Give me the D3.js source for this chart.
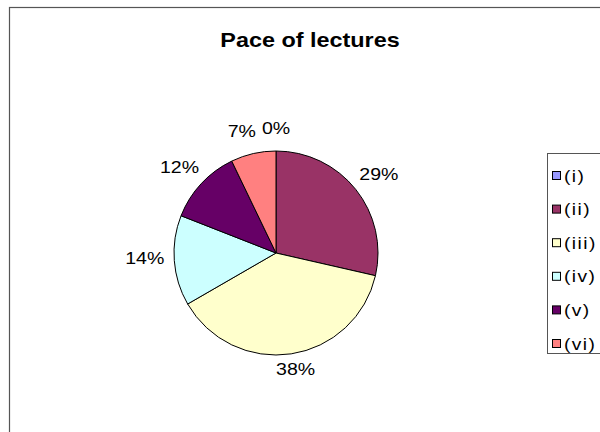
<!DOCTYPE html>
<html>
<head>
<meta charset="utf-8">
<script src="https://cdn.jsdelivr.net/npm/d3@7"></script>
<style>
  html, body { margin: 0; padding: 0; background: #fff; }
  svg { display: block; font-family: "Liberation Sans", Arial, sans-serif; }
</style>
</head>
<body>
<svg id="chart" width="600" height="432"></svg>
<script>
// ---- data ----
const title = "Pace of lectures";
const categories = ["(i)", "(ii)", "(iii)", "(iv)", "(v)", "(vi)"];
const counts = [0, 12, 16, 6, 5, 3];

// ---- styles ----
const palette = ["#9999FF", "#993366", "#FFFFCC", "#CCFFFF", "#660066", "#FF8080"];

const svg = d3.select("#chart");
const W = 600, H = 432;

// chart frame (extends past right/bottom edges)
svg.append("rect")
  .attr("x", 9.5).attr("y", 7.5)
  .attr("width", W + 20).attr("height", H + 20)
  .attr("fill", "#fff").attr("stroke", "#555").attr("stroke-width", 1.2);

// title
svg.append("text")
  .attr("transform", "translate(310,47) scale(1.2,1)")
  .attr("text-anchor", "middle")
  .attr("font-size", 19.5).attr("font-weight", "bold")
  .attr("fill", "#000")
  .text(title);

// pie
const cx = 276, cy = 253, r = 102;
const total = d3.sum(counts);
const pie = d3.pie().sort(null).value(d => d)(counts);
const arc = d3.arc().innerRadius(0).outerRadius(r);
const color = d3.scaleOrdinal().domain(categories).range(palette);

const g = svg.append("g").attr("transform", `translate(${cx},${cy})`);
g.selectAll("path.slice")
  .data(pie)
  .join("path")
  .attr("class", "slice")
  .attr("d", arc)
  .attr("fill", (d, i) => color(categories[i]))
  .attr("stroke", "#000")
  .attr("stroke-width", 1)
  .attr("stroke-linejoin", "round");

// percentage labels, placed just outside the pie edge
const pad = 13, sx = 1.15, fs = 17, gap = 6;
const labels = g.selectAll("g.lbl")
  .data(pie)
  .join("g")
  .attr("class", "lbl");
labels.append("text")
  .attr("text-anchor", "middle")
  .attr("font-size", fs)
  .attr("fill", "#000")
  .text(d => Math.round(d.value / total * 100) + "%");
const boxes = [];
labels.each(function(d, i) {
  const t = d3.select(this).select("text");
  const w = t.node().getComputedTextLength() * sx;
  const h = fs * 0.72;
  const a = (d.startAngle + d.endAngle) / 2;
  const s = Math.sin(a), c = Math.cos(a);
  const x = s * (r + pad - 3) + s * w / 2;
  const yc = -c * (r + pad) - c * h / 2 - 4;
  boxes[i] = { x, yc, w, h, a };
});
// resolve overlaps on the left half: walk from the top counter-clockwise
const order = [0].concat(d3.range(boxes.length - 1, 0, -1));
for (let k = 1; k < order.length; k++) {
  const prev = boxes[order[k - 1]], cur = boxes[order[k]];
  if (cur.a < Math.PI) continue;
  const vOverlap = Math.abs(prev.yc - cur.yc) < (prev.h + cur.h) / 2 + 2;
  const maxX = prev.x - prev.w / 2 - gap - cur.w / 2;
  if (vOverlap && cur.x > maxX) cur.x = maxX;
}
labels.attr("transform", (d, i) => {
  const b = boxes[i];
  return `translate(${b.x},${b.yc + b.h / 2}) scale(${sx},1)`;
});

// legend
const lg = svg.append("g");
lg.append("rect")
  .attr("x", 547.5).attr("y", 153.5)
  .attr("width", 80).attr("height", 200)
  .attr("fill", "#fff").attr("stroke", "#555").attr("stroke-width", 1);
const ly = d3.scalePoint().domain(categories).range([175.5, 343.5]);
const items = lg.selectAll("g.item")
  .data(categories)
  .join("g")
  .attr("class", "item")
  .attr("transform", d => `translate(0,${ly(d)})`);
items.append("rect")
  .attr("x", 552.5).attr("y", -4)
  .attr("width", 8).attr("height", 8)
  .attr("fill", d => color(d))
  .attr("stroke", "#000").attr("stroke-width", 1);
items.append("text")
  .attr("transform", "translate(564,6) scale(1.2,1)")
  .attr("font-size", 16)
  .attr("letter-spacing", 1.2)
  .attr("fill", "#000")
  .text(d => d);
</script>
</body>
</html>
